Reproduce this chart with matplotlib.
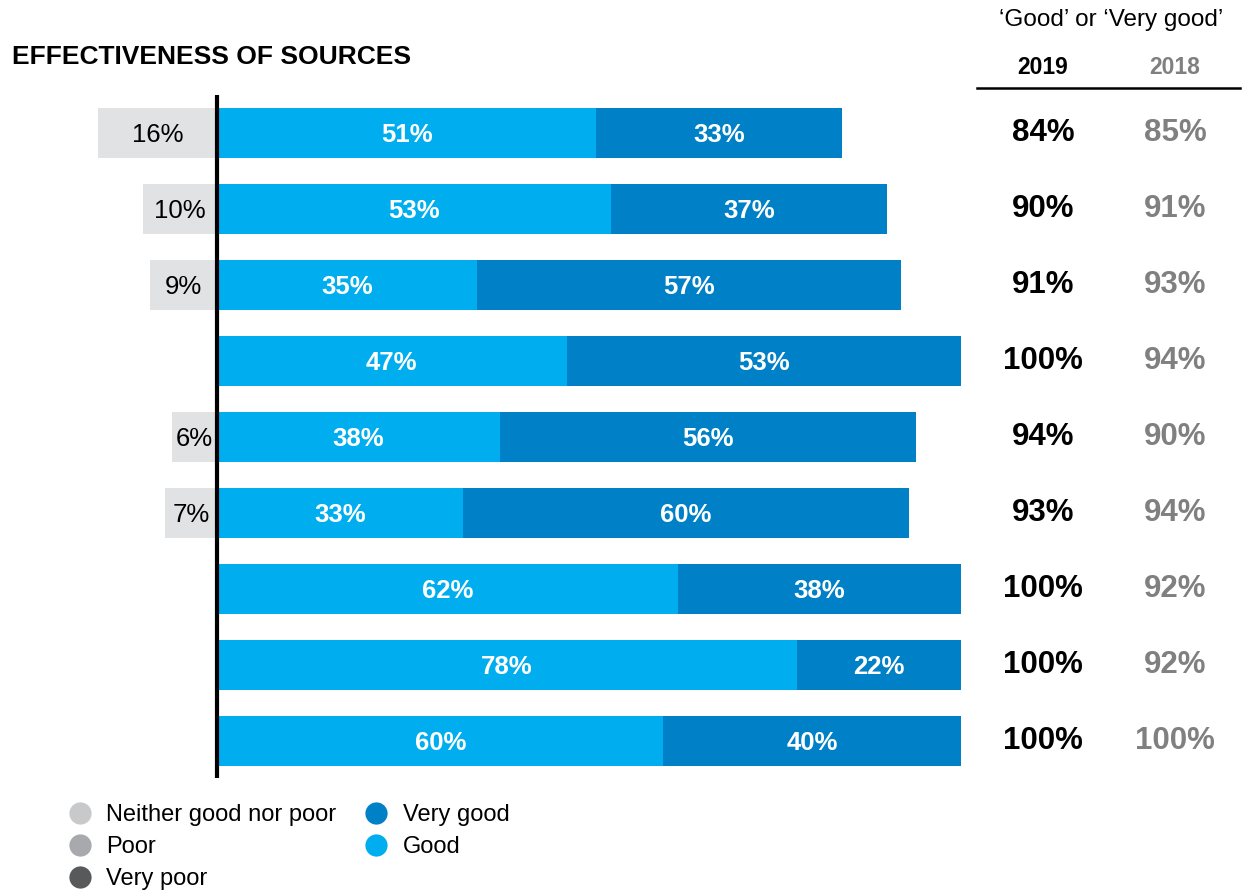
import matplotlib
matplotlib.use("Agg")
import matplotlib.pyplot as plt
from matplotlib.lines import Line2D
from matplotlib.transforms import blended_transform_factory

plt.rcParams['font.family'] = ['Liberation Sans', 'DejaVu Sans']

# ---- data ----
neutral = [16, 10, 9, 0, 6, 7, 0, 0, 0]
good = [51, 53, 35, 47, 38, 33, 62, 78, 60]
very_good = [33, 37, 57, 53, 56, 60, 38, 22, 40]
pct_2019 = [84, 90, 91, 100, 94, 93, 100, 100, 100]
pct_2018 = [85, 91, 93, 94, 90, 94, 92, 92, 100]
legend_labels = ['Neither good nor poor', 'Poor', 'Very poor', 'Very good', 'Good']
title = 'EFFECTIVENESS OF SOURCES'
col_header = '\u2018Good\u2019 or \u2018Very good\u2019'
years = ['2019', '2018']

# ---- colours ----
C_GOOD = '#00AEEF'
C_VGOOD = '#0080C6'
C_NEUT_BAR = '#E1E2E4'
C_NEUT = '#C8C9CB'
C_POOR = '#A7A9AC'
C_VPOOR = '#58595B'
C_2018 = '#808080'

W, H = 1243, 891
fig = plt.figure(figsize=(W / 100, H / 100), dpi=100)
ax = fig.add_axes([0, 0, 1, 1])
ax.set_axis_off()

px_per_unit = 7.44
x0 = 217
ax.set_xlim(-x0 / px_per_unit, (W - x0) / px_per_unit)
row0, row_step = 133, 76
ax.set_ylim((H - row0) / row_step, -row0 / row_step)

rows = list(range(len(good)))
bh = 50 / row_step
dy = 2 / row_step  # small downward nudge for labels

# bars
ax.barh(rows, [-n for n in neutral], height=bh, color=C_NEUT_BAR, linewidth=0)
ax.barh(rows, good, height=bh, color=C_GOOD, linewidth=0)
ax.barh(rows, very_good, left=good, height=bh, color=C_VGOOD, linewidth=0)

for i in rows:
    if neutral[i]:
        ax.text(-neutral[i] / 2, i + dy, f'{neutral[i]}%', ha='center', va='center',
                fontsize=18.5, color='black')
    ax.text(good[i] / 2, i + dy, f'{good[i]}%', ha='center', va='center',
            fontsize=18.5, color='white', fontweight='bold')
    ax.text(good[i] + very_good[i] / 2, i + dy, f'{very_good[i]}%', ha='center',
            va='center', fontsize=18.5, color='white', fontweight='bold')

# axis line
ax.plot([0, 0], [(95 - row0) / row_step, (778 - row0) / row_step], color='black',
        lw=3, solid_capstyle='butt')

# right columns
tr = blended_transform_factory(fig.transFigure, ax.transData)
for i in rows:
    ax.text(1043 / W, i, f'{pct_2019[i]}%', transform=tr, ha='center', va='center',
            fontsize=22.5, fontweight='bold', color='black')
    ax.text(1175 / W, i, f'{pct_2018[i]}%', transform=tr, ha='center', va='center',
            fontsize=22.5, fontweight='bold', color=C_2018)

fig.text(1111 / W, 1 - 20 / H, col_header, ha='center', va='center', fontsize=17.5)
fig.text(1043 / W, 1 - 68 / H, years[0], ha='center', va='center', fontsize=16.5,
         fontweight='bold', color='black')
fig.text(1175 / W, 1 - 68 / H, years[1], ha='center', va='center', fontsize=16.5,
         fontweight='bold', color=C_2018)
fig.add_artist(Line2D([977 / W, 1240 / W], [1 - 88 / H, 1 - 88 / H], color='black',
                      lw=1.8, transform=fig.transFigure))

fig.text(12 / W, 1 - 57 / H, title, ha='left', va='center', fontsize=19, fontweight='bold')

# legend
cols = [C_NEUT, C_POOR, C_VPOOR, C_VGOOD, C_GOOD]
handles = [Line2D([], [], marker='o', linestyle='none', markersize=16, color=c,
                  markeredgewidth=0) for c in cols]
fig.legend(handles, legend_labels, ncol=2, frameon=False, fontsize=17,
           loc='upper left', bbox_to_anchor=(68 / W, 1 - 804 / H),
           borderpad=0, borderaxespad=0, handlelength=1.0, handletextpad=0.63,
           labelspacing=0.43, columnspacing=1.17)

fig.savefig('out.png', dpi=100)
